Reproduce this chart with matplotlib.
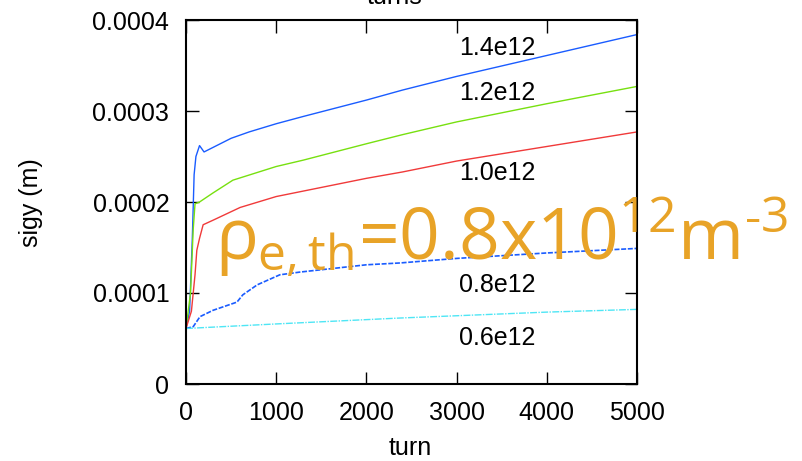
import matplotlib
matplotlib.use('Agg')
import matplotlib.pyplot as plt

# sigy growth vs turn for several electron cloud densities
turn_14 = [0, 40, 70, 90, 110, 150, 200, 300, 500, 700, 1000, 1300, 2000, 2400, 3000, 4000, 5000]
sigy_14 = [0.61, 0.8, 1.6, 2.3, 2.5, 2.62, 2.55, 2.6, 2.7, 2.77, 2.86, 2.94, 3.12, 3.23, 3.38, 3.61, 3.84]

turn_12 = [0, 50, 80, 100, 150, 300, 520, 1000, 1300, 2000, 2400, 3000, 4000, 5000]
sigy_12 = [0.61, 1.0, 1.7, 1.98, 2.0, 2.1, 2.24, 2.39, 2.46, 2.64, 2.74, 2.88, 3.08, 3.27]

turn_10 = [0, 60, 100, 120, 150, 190, 300, 600, 1000, 1300, 2000, 2400, 3000, 4000, 5000]
sigy_10 = [0.61, 0.8, 1.2, 1.47, 1.6, 1.75, 1.8, 1.94, 2.06, 2.12, 2.26, 2.33, 2.45, 2.61, 2.77]

turn_08 = [0, 80, 155, 300, 565, 630, 790, 1040, 1264, 2000, 2372, 3000, 4000, 5000]
sigy_08 = [0.61, 0.63, 0.74, 0.81, 0.9, 0.98, 1.09, 1.2, 1.23, 1.31, 1.33, 1.38, 1.44, 1.49]

turn_06 = [0, 1000, 2372, 3000, 4000, 5000]
sigy_06 = [0.61, 0.66, 0.725, 0.75, 0.79, 0.82]

labels = ['1.4e12', '1.2e12', '1.0e12', '0.8e12', '0.6e12']
label_y = [3.69, 3.2, 2.32, 1.09, 0.505]

plt.rcParams['font.family'] = ['Liberation Sans', 'DejaVu Sans']
plt.rcParams['mathtext.fontset'] = 'custom'
plt.rcParams['mathtext.rm'] = 'Open Sans'
plt.rcParams['mathtext.it'] = 'Open Sans'

fig = plt.figure(figsize=(8.03, 4.61), dpi=100)
ax = fig.add_axes([186/803, 1-384/461, (637-186)/803, (384-20)/461])

s = 1e-4
ax.plot(turn_14, [v*s for v in sigy_14], color='#1a5cff', lw=1)
ax.plot(turn_12, [v*s for v in sigy_12], color='#77e010', lw=1)
ax.plot(turn_10, [v*s for v in sigy_10], color='#f03a3a', lw=1)
ax.plot(turn_08, [v*s for v in sigy_08], color='#1a5cff', lw=1.2, ls=(0, (3, 1)))
ax.plot(turn_06, [v*s for v in sigy_06], color='#4ee6f5', lw=1, ls=(0, (5, 1, 1, 1)))

for lab, y in zip(labels, label_y):
    ax.text(3450, y*s, lab, ha='center', va='center', fontsize=18)

ax.set_xlim(0, 5000)
ax.set_ylim(0, 0.0004)
ax.set_xticks([0, 1000, 2000, 3000, 4000, 5000])
ax.set_yticks([0, 0.0001, 0.0002, 0.0003, 0.0004])
ax.set_yticklabels(['0', '0.0001', '0.0002', '0.0003', '0.0004'])
ax.tick_params(direction='in', length=9, width=1, labelsize=18, pad=12,
               top=True, right=True)
for sp in ax.spines.values():
    sp.set_linewidth(1.5)

fig.text(31/803, 1-203/461, 'sigy (m)', rotation=90, ha='center', va='center', fontsize=18)
fig.text(410/803, 1-448/461, 'turn', ha='center', va='center', fontsize=18)
fig.text(395/803, 1-4/461, 'turns', ha='center', va='baseline', fontsize=18)

fig.text(215/803, 1-260/461, '$\\rho_{\\mathrm{e,th}}$=0.8x10$^{12}$m$^{\u20103}$',
         ha='left', va='baseline', fontsize=51.3, color='#e8a327',
         family='Open Sans')

fig.savefig('out.png', dpi=100)
